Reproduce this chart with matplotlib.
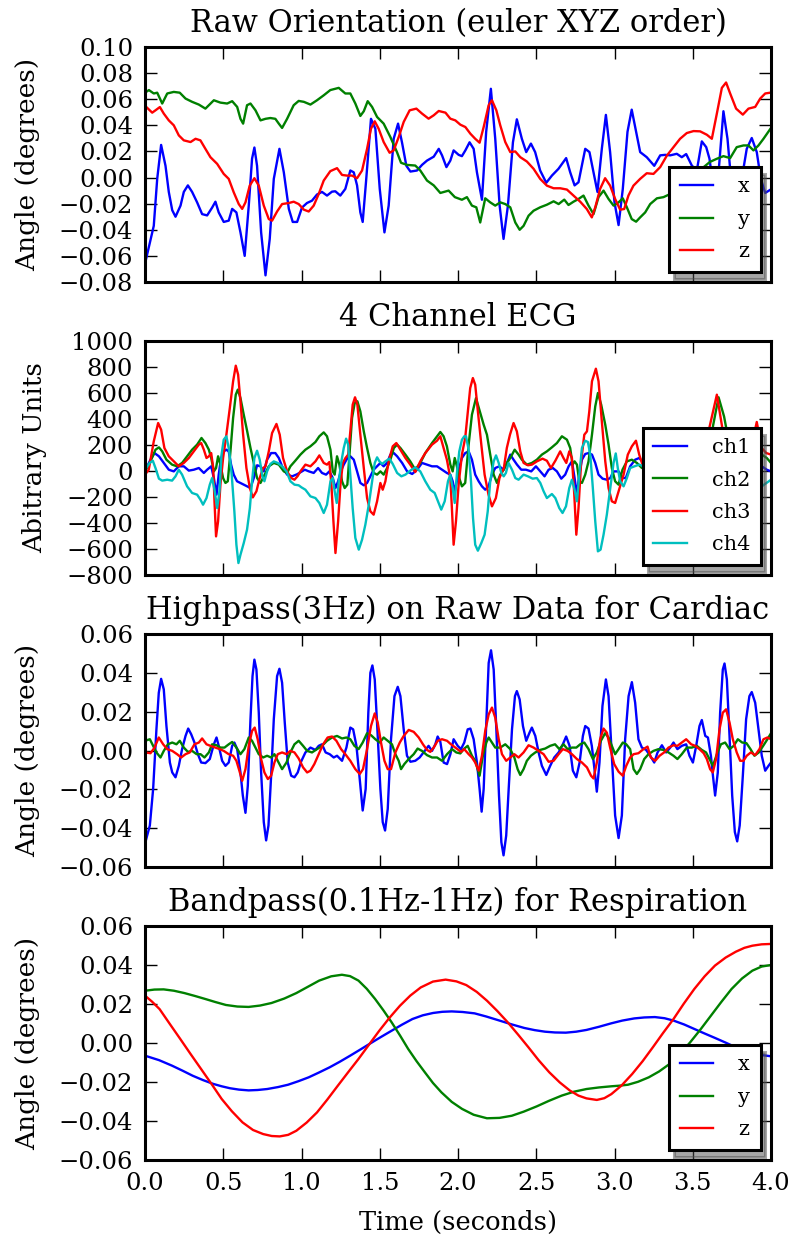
import matplotlib
matplotlib.use("Agg")
import matplotlib.pyplot as plt

plt.rcParams['font.family'] = ['DejaVu Serif']
plt.rcParams['axes.unicode_minus'] = True

# ---------------- data (time in seconds, value) ----------------
raw_x = [(0.0,-0.066),(0.056,-0.037),(0.078,-0.001),(0.103,0.025),(0.131,0.009),(0.152,-0.011),(0.174,-0.025),(0.195,-0.030),(0.227,-0.0215),(0.248,-0.011),(0.274,-0.006),(0.301,-0.011),(0.333,-0.019),(0.365,-0.028),(0.397,-0.029),(0.429,-0.023),(0.45,-0.0185),(0.471,-0.0267),(0.503,-0.034),(0.535,-0.033),(0.557,-0.024),(0.584,-0.0267),(0.61,-0.042),(0.637,-0.060),(0.663,-0.0215),(0.684,0.0144),(0.699,0.023),(0.716,0.009),(0.742,-0.042),(0.77,-0.0749),(0.797,-0.047),(0.823,-0.001),(0.859,0.022),(0.887,0.004),(0.919,-0.024),(0.944,-0.034),(0.972,-0.034),(1.003,-0.023),(1.035,-0.0195),(1.067,-0.0177),(1.099,-0.013),(1.131,-0.011),(1.163,-0.0138),(1.195,-0.0108),(1.216,-0.0105),(1.248,-0.0138),(1.28,-0.0087),(1.312,0.0054),(1.334,0.004),(1.355,-0.006),(1.376,-0.0267),(1.391,-0.034),(1.412,-0.0036),(1.444,0.045),(1.472,0.0374),(1.5,-0.0087),(1.53,-0.042),(1.557,-0.0215),(1.589,0.0297),(1.617,0.0413),(1.642,0.027),(1.67,0.009),(1.696,0.0046),(1.738,0.0054),(1.77,0.0097),(1.802,0.013),(1.845,0.016),(1.877,0.022),(1.898,0.017),(1.926,0.008),(1.951,0.013),(1.972,0.0208),(2.004,0.0174),(2.025,0.0164),(2.047,0.0208),(2.074,0.027),(2.1,0.022),(2.121,0.004),(2.153,-0.017),(2.18,0.035),(2.21,0.068),(2.238,0.0297),(2.266,-0.0215),(2.291,-0.047),(2.319,-0.0215),(2.351,0.027),(2.376,0.0446),(2.408,0.0297),(2.436,0.0195),(2.466,0.026),(2.493,0.0195),(2.525,0.0054),(2.564,-0.004),(2.6,0.0015),(2.642,0.0067),(2.691,0.0149),(2.717,0.004),(2.745,-0.006),(2.77,-0.0036),(2.813,0.022),(2.84,0.0195),(2.866,0.004),(2.891,-0.011),(2.919,0.022),(2.945,0.048),(2.972,0.0195),(3.0,-0.019),(3.026,-0.0364),(3.053,-0.0087),(3.083,0.035),(3.11,0.052),(3.138,0.035),(3.164,0.0195),(3.206,0.0156),(3.254,0.009),(3.292,0.017),(3.324,0.0174),(3.356,0.017),(3.398,0.0182),(3.43,0.0156),(3.458,0.018),(3.494,0.0092),(3.526,0.0054),(3.558,0.0277),(3.586,0.0233),(3.607,0.0144),(3.633,-0.0087),(3.665,0.004),(3.696,0.0508),(3.722,0.0297),(3.75,-0.0087),(3.781,-0.0164),(3.813,-0.001),(3.845,0.022),(3.877,0.0303),(3.909,0.0195),(3.935,-0.001),(3.963,-0.0118),(4.0,-0.009)]
raw_y = [(0.0,0.065),(0.025,0.067),(0.056,0.0644),(0.078,0.065),(0.11,0.0567),(0.142,0.0644),(0.184,0.0656),(0.222,0.065),(0.259,0.0605),(0.301,0.058),(0.344,0.0559),(0.386,0.0528),(0.44,0.0592),(0.482,0.0574),(0.525,0.0567),(0.557,0.0585),(0.589,0.0541),(0.61,0.045),(0.627,0.0413),(0.652,0.0554),(0.674,0.0567),(0.706,0.0515),(0.738,0.0438),(0.77,0.045),(0.801,0.0456),(0.833,0.045),(0.855,0.0413),(0.876,0.038),(0.908,0.045),(0.95,0.0554),(0.982,0.0587),(1.015,0.058),(1.057,0.0559),(1.099,0.0592),(1.142,0.063),(1.184,0.067),(1.238,0.0687),(1.28,0.0644),(1.312,0.0644),(1.344,0.0567),(1.376,0.0472),(1.398,0.0508),(1.423,0.0585),(1.451,0.0541),(1.483,0.0464),(1.525,0.0413),(1.568,0.031),(1.61,0.0195),(1.636,0.0113),(1.674,0.0097),(1.727,0.0092),(1.759,0.0054),(1.802,-0.0023),(1.845,-0.006),(1.887,-0.0118),(1.94,-0.01),(1.98,-0.015),(2.025,-0.017),(2.057,-0.015),(2.089,-0.0215),(2.117,-0.0228),(2.142,-0.0344),(2.174,-0.0159),(2.206,-0.019),(2.238,-0.0215),(2.27,-0.019),(2.302,-0.0203),(2.334,-0.0228),(2.366,-0.0344),(2.394,-0.04),(2.419,-0.037),(2.451,-0.0292),(2.483,-0.0254),(2.525,-0.0228),(2.568,-0.0208),(2.611,-0.0182),(2.643,-0.0203),(2.679,-0.0169),(2.706,-0.021),(2.738,-0.0185),(2.77,-0.0164),(2.802,-0.0138),(2.834,-0.0215),(2.866,-0.028),(2.898,-0.015),(2.93,-0.01),(2.962,-0.0164),(2.994,-0.0215),(3.026,-0.019),(3.053,-0.0159),(3.079,-0.0228),(3.11,-0.0318),(3.138,-0.0338),(3.164,-0.0305),(3.196,-0.0267),(3.228,-0.0203),(3.271,-0.0159),(3.313,-0.015),(3.356,-0.0126),(3.45,-0.005),(3.55,0.006),(3.61,0.012),(3.654,0.0144),(3.696,0.0164),(3.739,0.0149),(3.781,0.0233),(3.824,0.0246),(3.856,0.0246),(3.888,0.0208),(3.92,0.0246),(3.952,0.0297),(4.0,0.038)]
raw_z = [(0.0,0.055),(0.046,0.0497),(0.067,0.0515),(0.095,0.054),(0.12,0.049),(0.152,0.0438),(0.184,0.04),(0.216,0.0323),(0.248,0.0285),(0.291,0.0272),(0.323,0.0297),(0.354,0.0285),(0.386,0.022),(0.418,0.0156),(0.461,0.0105),(0.503,0.0028),(0.535,-0.001),(0.567,-0.0113),(0.599,-0.0203),(0.621,-0.024),(0.642,-0.019),(0.669,-0.0062),(0.699,-0.0005),(0.727,-0.0062),(0.759,-0.0215),(0.791,-0.0318),(0.812,-0.033),(0.844,-0.026),(0.876,-0.0203),(0.919,-0.0195),(0.95,-0.0185),(0.982,-0.0203),(1.015,-0.0246),(1.046,-0.026),(1.078,-0.0215),(1.11,-0.0126),(1.142,-0.0023),(1.184,0.0049),(1.227,0.0072),(1.259,0.002),(1.291,0.0015),(1.323,0.0015),(1.355,-0.0005),(1.387,0.0054),(1.419,0.022),(1.444,0.0374),(1.468,0.0431),(1.493,0.0374),(1.525,0.0272),(1.563,0.019),(1.589,0.0208),(1.621,0.031),(1.653,0.0426),(1.691,0.0515),(1.734,0.0528),(1.77,0.049),(1.812,0.0451),(1.845,0.0477),(1.877,0.051),(1.92,0.0497),(1.951,0.0451),(1.983,0.0438),(2.015,0.0405),(2.047,0.0387),(2.079,0.0336),(2.11,0.0297),(2.138,0.0267),(2.164,0.0387),(2.196,0.0554),(2.217,0.0592),(2.245,0.0515),(2.27,0.04),(2.302,0.0272),(2.334,0.0195),(2.366,0.02),(2.398,0.0156),(2.44,0.0123),(2.483,0.0067),(2.525,-0.001),(2.568,-0.0062),(2.611,-0.0082),(2.653,-0.0082),(2.696,-0.0092),(2.738,-0.0138),(2.781,-0.0185),(2.823,-0.0241),(2.855,-0.0305),(2.877,-0.0228),(2.908,-0.0087),(2.94,-0.0005),(2.972,-0.0062),(3.004,-0.0164),(3.036,-0.0246),(3.062,-0.0241),(3.089,-0.0138),(3.121,-0.0062),(3.164,-0.001),(3.206,0.0033),(3.249,0.0028),(3.292,0.008),(3.335,0.0169),(3.377,0.0233),(3.419,0.0297),(3.462,0.0341),(3.505,0.0356),(3.547,0.0354),(3.59,0.0328),(3.622,0.0297),(3.654,0.049),(3.686,0.0687),(3.713,0.0728),(3.739,0.0644),(3.777,0.0528),(3.82,0.0482),(3.856,0.0528),(3.899,0.0541),(3.931,0.0605),(3.963,0.0644),(4.0,0.0651)]

ecg_ch1 = [(0.0,0),(0.035,87),(0.061,138),(0.089,113),(0.12,62),(0.152,10),(0.184,-3),(0.216,36),(0.248,36),(0.28,3),(0.312,10),(0.344,23),(0.376,-15),(0.397,10),(0.423,36),(0.44,-54),(0.457,-182),(0.471,-28),(0.486,100),(0.503,151),(0.52,164),(0.535,151),(0.55,49),(0.567,-28),(0.588,-79),(0.61,-92),(0.631,-105),(0.652,-118),(0.674,-131),(0.695,-54),(0.716,44),(0.738,36),(0.759,-3),(0.78,87),(0.806,138),(0.833,138),(0.855,100),(0.876,36),(0.908,-28),(0.94,-41),(0.972,-25),(1.0,-5),(1.021,10),(1.047,-3),(1.078,-15),(1.106,23),(1.131,-15),(1.157,-28),(1.178,-3),(1.2,-54),(1.217,-131),(1.234,-79),(1.251,-3),(1.27,49),(1.291,95),(1.312,113),(1.334,87),(1.355,-3),(1.376,-92),(1.398,-110),(1.419,-92),(1.44,-41),(1.461,10),(1.483,36),(1.504,62),(1.525,36),(1.547,62),(1.568,126),(1.59,138),(1.611,113),(1.643,62),(1.675,-3),(1.707,-23),(1.739,10),(1.77,62),(1.802,49),(1.834,36),(1.866,36),(1.898,10),(1.929,-15),(1.951,-28),(1.966,-79),(1.979,-156),(1.993,-79),(2.004,10),(2.025,100),(2.046,138),(2.068,151),(2.089,87),(2.11,-28),(2.132,-79),(2.153,-118),(2.174,-144),(2.195,-118),(2.217,-28),(2.238,23),(2.264,36),(2.292,10),(2.313,62),(2.334,126),(2.355,87),(2.377,49),(2.404,10),(2.434,10),(2.468,-3),(2.498,36),(2.526,-3),(2.553,-41),(2.579,10),(2.606,23),(2.632,-3),(2.66,-59),(2.685,-28),(2.707,36),(2.728,74),(2.745,-54),(2.76,-182),(2.775,-28),(2.792,87),(2.813,131),(2.834,138),(2.856,126),(2.877,62),(2.898,-28),(2.924,-59),(2.951,-67),(2.973,-54),(2.994,-3),(3.026,-3),(3.051,-54),(3.072,-54),(3.1,36),(3.132,87),(3.158,100),(3.186,62),(3.25,0),(3.35,20),(3.45,0),(3.52,-150),(3.56,50),(3.6,140),(3.68,60),(3.75,-80),(3.85,-30),(3.9,20),(3.941,36),(3.973,10),(4.0,-3)]
ecg_ch2 = [(0.0,-3),(0.035,74),(0.067,164),(0.089,182),(0.11,151),(0.137,87),(0.173,49),(0.205,36),(0.237,62),(0.269,113),(0.301,164),(0.333,203),(0.361,254),(0.386,215),(0.408,164),(0.423,100),(0.44,-3),(0.454,23),(0.467,113),(0.482,49),(0.499,-54),(0.514,-92),(0.529,-79),(0.546,151),(0.563,408),(0.58,587),(0.593,626),(0.61,561),(0.631,433),(0.653,305),(0.674,177),(0.695,62),(0.716,-54),(0.738,-92),(0.759,-41),(0.791,36),(0.823,62),(0.855,49),(0.887,-3),(0.908,-15),(0.929,36),(0.961,80),(0.993,126),(1.025,164),(1.057,190),(1.089,223),(1.114,267),(1.142,297),(1.163,267),(1.185,164),(1.2,-3),(1.212,-28),(1.227,113),(1.242,49),(1.259,-79),(1.276,-131),(1.293,-105),(1.308,151),(1.323,408),(1.34,523),(1.357,536),(1.376,459),(1.398,305),(1.419,177),(1.44,62),(1.461,-15),(1.483,-28),(1.504,-3),(1.525,-28),(1.547,23),(1.568,87),(1.59,177),(1.611,203),(1.632,177),(1.664,126),(1.695,74),(1.727,10),(1.759,62),(1.791,138),(1.834,215),(1.866,267),(1.887,300),(1.908,267),(1.929,190),(1.951,49),(1.966,-3),(1.979,100),(1.993,36),(2.008,-54),(2.025,-118),(2.046,-92),(2.068,203),(2.089,433),(2.115,561),(2.136,472),(2.164,356),(2.185,279),(2.206,126),(2.228,-28),(2.249,-92),(2.27,-28),(2.292,10),(2.313,62),(2.334,100),(2.362,164),(2.387,126),(2.408,87),(2.44,49),(2.472,62),(2.504,87),(2.536,126),(2.568,151),(2.6,182),(2.632,215),(2.664,267),(2.696,241),(2.717,177),(2.732,49),(2.745,74),(2.76,49),(2.775,-79),(2.792,-92),(2.813,-28),(2.834,74),(2.856,279),(2.877,497),(2.894,600),(2.915,510),(2.941,356),(2.962,203),(2.983,23),(3.004,-79),(3.026,-105),(3.051,10),(3.079,74),(3.111,87),(3.143,62),(3.175,23),(3.25,50),(3.35,100),(3.45,200),(3.5,150),(3.55,-50),(3.6,100),(3.63,350),(3.665,567),(3.7,420),(3.75,100),(3.8,-30),(3.85,-50),(3.9,50),(3.941,126),(3.973,100),(4.0,62)]
ecg_ch3 = [(0.0,-28),(0.024,10),(0.056,228),(0.084,369),(0.103,318),(0.124,177),(0.152,113),(0.184,74),(0.216,36),(0.248,62),(0.28,100),(0.312,151),(0.344,203),(0.359,215),(0.376,164),(0.393,100),(0.408,113),(0.423,138),(0.436,23),(0.444,-233),(0.454,-503),(0.467,-387),(0.482,-105),(0.499,100),(0.52,279),(0.542,485),(0.563,690),(0.58,810),(0.595,741),(0.61,536),(0.627,279),(0.648,23),(0.67,-131),(0.689,-203),(0.712,-156),(0.733,-54),(0.755,23),(0.77,36),(0.791,151),(0.812,292),(0.84,362),(0.861,279),(0.882,100),(0.908,-3),(0.934,-54),(0.955,-67),(0.975,-40),(0.993,-3),(1.025,49),(1.057,36),(1.089,74),(1.114,120),(1.142,62),(1.163,49),(1.178,69),(1.191,-105),(1.204,-387),(1.217,-631),(1.234,-387),(1.249,-105),(1.264,62),(1.281,100),(1.298,126),(1.312,305),(1.327,510),(1.342,567),(1.357,510),(1.376,279),(1.398,23),(1.419,-208),(1.44,-310),(1.461,-336),(1.483,-233),(1.504,-92),(1.519,-144),(1.536,-79),(1.557,74),(1.583,190),(1.606,215),(1.632,164),(1.664,100),(1.695,49),(1.727,-8),(1.759,74),(1.791,138),(1.834,203),(1.866,233),(1.887,267),(1.908,177),(1.929,87),(1.951,-54),(1.961,-285),(1.972,-567),(1.987,-387),(2.004,-105),(2.025,126),(2.046,254),(2.063,459),(2.078,638),(2.095,715),(2.11,664),(2.127,459),(2.149,203),(2.17,-28),(2.195,-182),(2.217,-272),(2.242,-208),(2.265,-54),(2.293,23),(2.312,177),(2.332,279),(2.355,369),(2.376,305),(2.398,151),(2.419,62),(2.447,44),(2.472,49),(2.504,74),(2.54,95),(2.568,79),(2.594,23),(2.622,79),(2.653,151),(2.674,100),(2.692,62),(2.711,151),(2.728,100),(2.743,-182),(2.756,-490),(2.77,-285),(2.787,74),(2.807,279),(2.824,305),(2.839,459),(2.856,690),(2.881,787),(2.898,690),(2.919,382),(2.941,74),(2.962,-131),(2.983,-233),(3.004,-246),(3.026,-156),(3.058,-28),(3.085,126),(3.111,190),(3.137,233),(3.158,126),(3.186,23),(3.25,0),(3.3,50),(3.4,120),(3.48,150),(3.52,-400),(3.56,50),(3.6,300),(3.654,587),(3.7,250),(3.75,-250),(3.8,-200),(3.85,50),(3.909,377),(3.94,177),(3.97,138),(4.0,126)]
ecg_ch4 = [(0.0,10),(0.03,62),(0.05,79),(0.067,23),(0.089,-59),(0.11,-74),(0.142,-67),(0.173,-74),(0.195,-41),(0.216,10),(0.237,-28),(0.269,-118),(0.301,-169),(0.333,-182),(0.354,-220),(0.371,-259),(0.393,-208),(0.414,-105),(0.429,-54),(0.444,-144),(0.461,-285),(0.476,-156),(0.489,126),(0.503,241),(0.52,267),(0.537,164),(0.554,-28),(0.571,-310),(0.584,-567),(0.597,-708),(0.61,-644),(0.631,-554),(0.652,-451),(0.67,-285),(0.684,-79),(0.699,100),(0.716,156),(0.733,87),(0.75,-41),(0.763,-79),(0.78,-3),(0.801,54),(0.823,74),(0.848,62),(0.876,36),(0.904,-3),(0.929,-79),(0.955,-105),(0.982,-110),(1.0,-126),(1.025,-144),(1.057,-195),(1.089,-208),(1.114,-246),(1.142,-323),(1.163,-259),(1.185,-79),(1.2,-54),(1.212,-156),(1.225,-246),(1.238,-79),(1.255,74),(1.27,177),(1.285,249),(1.298,203),(1.312,-28),(1.327,-285),(1.344,-515),(1.366,-605),(1.387,-528),(1.408,-413),(1.43,-259),(1.451,-79),(1.468,62),(1.483,105),(1.498,74),(1.515,54),(1.536,74),(1.562,95),(1.583,54),(1.611,-15),(1.638,-41),(1.664,-28),(1.695,3),(1.727,28),(1.759,-3),(1.791,-79),(1.823,-144),(1.851,-169),(1.872,-233),(1.893,-297),(1.915,-233),(1.936,-79),(1.951,-28),(1.966,-131),(1.979,-246),(1.993,-20),(2.008,150),(2.025,240),(2.04,267),(2.051,267),(2.068,164),(2.083,-79),(2.096,-362),(2.11,-567),(2.127,-613),(2.149,-554),(2.17,-490),(2.19,-310),(2.206,-79),(2.228,74),(2.243,120),(2.26,62),(2.277,-15),(2.292,-41),(2.306,-15),(2.323,62),(2.345,10),(2.366,-54),(2.387,-67),(2.419,-28),(2.447,-41),(2.477,-59),(2.504,-54),(2.526,-92),(2.547,-156),(2.568,-208),(2.6,-177),(2.622,-208),(2.647,-285),(2.668,-323),(2.69,-272),(2.711,-131),(2.728,-67),(2.745,-144),(2.76,-233),(2.775,-28),(2.792,177),(2.813,233),(2.83,223),(2.845,126),(2.86,-105),(2.877,-387),(2.894,-618),(2.911,-605),(2.93,-490),(2.951,-336),(2.973,-131),(2.994,62),(3.008,135),(3.021,23),(3.036,-79),(3.058,-118),(3.079,-54),(3.1,23),(3.128,36),(3.158,49),(3.186,36),(3.25,-30),(3.35,-80),(3.45,-250),(3.5,-150),(3.55,200),(3.6,-300),(3.66,-550),(3.72,-300),(3.8,0),(3.88,-80),(3.941,-118),(4.0,-67)]

hp_x = [(0.0,-0.048),(0.031,-0.0386),(0.052,-0.0198),(0.073,0.0109),(0.088,0.0297),(0.103,0.0369),(0.12,0.0315),(0.137,0.0126),(0.159,-0.0062),(0.174,-0.0113),(0.195,-0.0138),(0.216,-0.0079),(0.237,0.0007),(0.259,0.0075),(0.276,0.0113),(0.295,0.0084),(0.316,0.0041),(0.338,-0.0019),(0.359,-0.0062),(0.386,-0.0065),(0.414,-0.0044),(0.44,0.0032),(0.457,0.0067),(0.471,0.0024),(0.493,-0.0053),(0.514,-0.0079),(0.535,-0.0062),(0.557,0.0024),(0.571,0.0041),(0.589,0.0007),(0.61,-0.0113),(0.625,-0.0232),(0.642,-0.0321),(0.657,-0.0181),(0.674,0.0161),(0.687,0.0383),(0.699,0.0468),(0.712,0.0417),(0.727,0.0195),(0.742,-0.0113),(0.759,-0.0369),(0.774,-0.0463),(0.789,-0.0386),(0.806,-0.013),(0.823,0.0161),(0.844,0.0383),(0.859,0.0421),(0.876,0.0349),(0.893,0.0144),(0.912,-0.0062),(0.934,-0.013),(0.955,-0.0138),(0.976,-0.0113),(0.997,-0.0058),(1.025,-0.001),(1.057,0.0015),(1.089,0.0003),(1.11,0.0024),(1.131,0.0032),(1.154,-0.001),(1.18,-0.0019),(1.206,-0.0036),(1.227,-0.0027),(1.259,-0.0053),(1.287,0.0015),(1.312,0.0118),(1.33,0.0109),(1.351,0.0024),(1.372,-0.0147),(1.391,-0.0309),(1.41,-0.0198),(1.427,0.0195),(1.44,0.04),(1.453,0.0438),(1.468,0.0366),(1.487,0.0075),(1.504,-0.0198),(1.519,-0.0369),(1.534,-0.0412),(1.551,-0.0301),(1.572,0.0058),(1.594,0.028),(1.615,0.0328),(1.632,0.028),(1.653,0.0109),(1.674,-0.0027),(1.696,-0.0058),(1.727,-0.0053),(1.755,-0.0036),(1.78,-0.001),(1.812,0.0024),(1.834,-0.0002),(1.855,0.0032),(1.87,0.0072),(1.887,0.0045),(1.908,-0.0062),(1.93,-0.007),(1.951,-0.002),(1.972,0.0058),(1.998,0.0024),(2.019,0.0007),(2.04,0.0041),(2.062,0.0109),(2.079,0.0113),(2.1,0.0058),(2.121,-0.0062),(2.138,-0.0198),(2.151,-0.0315),(2.164,-0.0198),(2.181,0.0144),(2.196,0.0451),(2.211,0.0516),(2.228,0.0417),(2.245,0.0109),(2.262,-0.0232),(2.277,-0.0472),(2.291,-0.054),(2.308,-0.0438),(2.325,-0.0181),(2.345,0.0109),(2.364,0.028),(2.376,0.0306),(2.394,0.0263),(2.415,0.0126),(2.436,0.005),(2.457,0.0092),(2.472,0.0118),(2.494,0.0075),(2.515,-0.001),(2.536,-0.0079),(2.564,-0.0126),(2.589,-0.0079),(2.615,-0.0036),(2.643,-0.001),(2.67,0.0032),(2.691,0.0072),(2.713,0.0024),(2.734,-0.0104),(2.756,-0.0138),(2.777,-0.0062),(2.798,0.0075),(2.813,0.0126),(2.834,0.0113),(2.855,0.0024),(2.872,-0.0096),(2.887,-0.0212),(2.904,-0.0062),(2.923,0.0229),(2.945,0.0366),(2.962,0.028),(2.983,-0.0027),(3.004,-0.0335),(3.026,-0.0451),(3.047,-0.0335),(3.068,0.0058),(3.09,0.028),(3.111,0.0352),(3.132,0.0246),(3.153,0.0058),(3.175,0.0015),(3.202,0.0003),(3.228,-0.0027),(3.254,-0.0062),(3.275,-0.001),(3.303,0.0027),(3.33,-0.001),(3.356,0.0015),(3.377,0.0041),(3.402,0.0007),(3.43,0.0024),(3.458,0.0032),(3.479,-0.0027),(3.501,-0.0062),(3.522,0.0024),(3.543,0.0126),(3.558,0.0157),(3.58,0.0075),(3.597,0.0067),(3.616,-0.0027),(3.629,-0.013),(3.643,-0.0232),(3.66,-0.0113),(3.675,0.0195),(3.692,0.0417),(3.703,0.0448),(3.718,0.0366),(3.735,0.0075),(3.752,-0.0232),(3.769,-0.042),(3.784,-0.0468),(3.8,-0.0386),(3.82,-0.013),(3.841,0.0161),(3.862,0.028),(3.877,0.0301),(3.899,0.0246),(3.92,0.0109),(3.941,-0.0027),(3.963,-0.0104),(3.984,-0.0079),(4.0,-0.0062)]
hp_y = [(0.0,0.005),(0.031,0.0058),(0.052,0.0024),(0.073,-0.001),(0.099,-0.0036),(0.12,-0.0002),(0.146,0.0032),(0.174,0.0041),(0.201,0.0032),(0.222,0.005),(0.248,0.0015),(0.274,-0.0007),(0.301,-0.0002),(0.33,-0.0019),(0.355,-0.0019),(0.38,-0.0036),(0.408,-0.001),(0.429,0.0032),(0.457,0.0027),(0.482,0.0015),(0.508,0.0015),(0.535,0.0032),(0.557,0.0044),(0.584,0.0015),(0.61,-0.0019),(0.635,0.0007),(0.663,0.0067),(0.684,0.005),(0.706,0.0015),(0.727,-0.0019),(0.755,-0.0036),(0.78,-0.0027),(0.806,-0.0036),(0.827,-0.0019),(0.848,-0.0053),(0.876,-0.0096),(0.904,-0.0062),(0.929,-0.001),(0.955,0.0032),(0.982,0.005),(1.01,0.0024),(1.036,-0.0002),(1.067,-0.001),(1.099,0.0007),(1.131,0.0024),(1.163,0.005),(1.195,0.0067),(1.227,0.0075),(1.259,0.0062),(1.287,0.0067),(1.312,0.0058),(1.338,0.0024),(1.365,0.0007),(1.391,0.0041),(1.419,0.0089),(1.444,0.0079),(1.472,0.0058),(1.5,0.0041),(1.525,0.0067),(1.551,0.005),(1.578,0.0032),(1.6,-0.0019),(1.621,-0.0053),(1.636,-0.0096),(1.657,-0.007),(1.685,-0.0044),(1.717,-0.0019),(1.742,0.001),(1.77,-0.0002),(1.802,-0.0024),(1.834,-0.0036),(1.866,-0.0036),(1.898,-0.0053),(1.93,-0.0019),(1.962,0.0007),(1.989,-0.001),(2.015,-0.0015),(2.036,0.0007),(2.062,0.0024),(2.089,-0.0027),(2.11,-0.0053),(2.126,-0.0096),(2.138,-0.013),(2.159,-0.0027),(2.181,0.0041),(2.196,0.0067),(2.217,0.0041),(2.238,0.0015),(2.27,0.0015),(2.302,0.0032),(2.334,0.0007),(2.36,-0.0036),(2.381,-0.0096),(2.398,-0.0126),(2.419,-0.0096),(2.44,-0.0053),(2.466,-0.0027),(2.494,-0.001),(2.525,0.0003),(2.557,0.001),(2.589,0.0024),(2.62,0.0032),(2.648,0.0007),(2.674,0.0032),(2.7,0.0007),(2.728,0.0015),(2.756,0.0015),(2.781,0.0032),(2.807,0.0041),(2.834,0.0007),(2.862,-0.0044),(2.887,-0.001),(2.913,0.005),(2.94,0.0089),(2.962,0.0067),(2.983,0.0024),(3.004,-0.0019),(3.026,0.0007),(3.053,0.0041),(3.075,0.0032),(3.1,0.0007),(3.122,-0.0096),(3.143,-0.0121),(3.164,-0.0096),(3.19,-0.0044),(3.217,-0.0019),(3.249,-0.0002),(3.281,0.0007),(3.313,0.0003),(3.345,-0.001),(3.377,-0.0027),(3.402,-0.0044),(3.43,-0.0019),(3.462,0.0015),(3.494,0.0015),(3.526,0.0024),(3.558,0.0003),(3.585,-0.001),(3.607,-0.0044),(3.629,-0.0079),(3.654,-0.0019),(3.68,0.0032),(3.707,0.0041),(3.735,0.0007),(3.762,0.0024),(3.788,0.0058),(3.816,0.0041),(3.843,0.0038),(3.869,0.0007),(3.894,-0.0027),(3.922,-0.001),(3.95,0.0024),(3.977,0.0058),(4.0,0.0089)]
hp_z = [(0.0,-0.001),(0.035,-0.0014),(0.061,0.0015),(0.088,0.0067),(0.116,0.0032),(0.142,0.0007),(0.174,-0.0002),(0.205,-0.0019),(0.231,-0.0036),(0.259,-0.0019),(0.286,-0.001),(0.316,0.0032),(0.344,0.0041),(0.365,0.0062),(0.393,0.0032),(0.418,0.0024),(0.45,0.0015),(0.478,0.0007),(0.503,-0.0002),(0.535,-0.0019),(0.563,-0.0027),(0.584,-0.0053),(0.603,-0.0104),(0.621,-0.0156),(0.642,-0.0096),(0.663,0.0024),(0.684,0.0101),(0.701,0.0118),(0.72,0.0058),(0.742,-0.0044),(0.763,-0.0113),(0.785,-0.0147),(0.806,-0.013),(0.827,-0.0062),(0.848,-0.0019),(0.876,-0.001),(0.904,-0.0019),(0.929,-0.0002),(0.955,-0.001),(0.982,-0.0041),(1.01,-0.0087),(1.036,-0.0113),(1.057,-0.0104),(1.082,-0.007),(1.11,-0.0019),(1.138,0.0032),(1.167,0.0067),(1.195,0.0072),(1.223,0.005),(1.253,0.0007),(1.28,-0.0019),(1.312,-0.0053),(1.344,-0.0096),(1.372,-0.0121),(1.393,-0.0096),(1.419,0.0007),(1.444,0.0126),(1.468,0.0191),(1.487,0.0144),(1.508,0.0041),(1.53,-0.0053),(1.551,-0.0096),(1.572,-0.0096),(1.6,-0.001),(1.628,0.0041),(1.653,0.0075),(1.685,0.0106),(1.717,0.0096),(1.749,0.0067),(1.776,0.0032),(1.802,0.0003),(1.823,-0.0007),(1.845,0.0015),(1.87,0.005),(1.898,0.0058),(1.93,0.005),(1.955,0.0032),(1.983,0.0015),(2.019,-0.0007),(2.04,0.0007),(2.068,-0.0019),(2.089,-0.0036),(2.11,-0.0062),(2.132,-0.0104),(2.153,-0.0027),(2.174,0.0101),(2.196,0.0186),(2.217,0.0221),(2.238,0.0169),(2.26,0.0058),(2.281,-0.0019),(2.308,-0.0053),(2.334,-0.0036),(2.36,-0.0019),(2.387,-0.0036),(2.419,-0.001),(2.451,0.0027),(2.483,0.0015),(2.515,-0.0002),(2.547,-0.0019),(2.579,-0.0058),(2.611,-0.0053),(2.643,-0.0019),(2.67,0.0007),(2.7,-0.0002),(2.728,-0.0019),(2.76,-0.0044),(2.792,-0.0062),(2.824,-0.0087),(2.85,-0.013),(2.866,-0.0144),(2.887,-0.0062),(2.908,0.0058),(2.93,0.0113),(2.951,0.0092),(2.972,0.0015),(2.998,-0.007),(3.026,-0.0109),(3.053,-0.013),(3.075,-0.0079),(3.1,-0.0036),(3.122,-0.0019),(3.153,-0.0014),(3.185,0.0007),(3.211,0.002),(3.232,-0.0036),(3.26,-0.0053),(3.288,-0.0027),(3.317,-0.001),(3.345,0.0015),(3.377,0.0027),(3.402,0.0024),(3.43,0.0041),(3.458,0.0058),(3.49,0.0032),(3.516,0.0024),(3.543,0.0007),(3.57,-0.0014),(3.59,-0.0044),(3.611,-0.0096),(3.628,-0.0113),(3.649,-0.0044),(3.671,0.0109),(3.692,0.0195),(3.713,0.0212),(3.735,0.0144),(3.756,0.0058),(3.781,-0.001),(3.803,-0.0053),(3.824,-0.0053),(3.845,-0.0027),(3.871,-0.001),(3.899,-0.0024),(3.926,0.0007),(3.952,0.0058),(3.977,0.0067),(4.0,0.0058)]

bp_x = [(0.0,-0.0065),(0.09,-0.0088),(0.172,-0.0116),(0.24,-0.0142),(0.305,-0.0168),(0.37,-0.019),(0.437,-0.021),(0.49,-0.0222),(0.543,-0.0232),(0.6,-0.0239),(0.662,-0.0243),(0.72,-0.0241),(0.781,-0.0236),(0.85,-0.0226),(0.914,-0.0214),(0.98,-0.0196),(1.046,-0.0176),(1.11,-0.0152),(1.179,-0.0125),(1.245,-0.0096),(1.311,-0.0065),(1.377,-0.0033),(1.444,0.0),(1.51,0.0032),(1.576,0.0063),(1.642,0.0094),(1.709,0.0123),(1.775,0.0142),(1.841,0.0154),(1.9,0.016),(1.96,0.0162),(2.03,0.0159),(2.106,0.0152),(2.18,0.0136),(2.265,0.0115),(2.345,0.0095),(2.424,0.0077),(2.49,0.0066),(2.556,0.0058),(2.62,0.0054),(2.689,0.0053),(2.755,0.0058),(2.821,0.0067),(2.9,0.0083),(2.98,0.0101),(3.05,0.0115),(3.126,0.0126),(3.19,0.0131),(3.258,0.0133),(3.32,0.0127),(3.377,0.0115),(3.445,0.0095),(3.51,0.0072),(3.575,0.0049),(3.642,0.0026),(3.71,0.0002),(3.775,-0.0022),(3.83,-0.0038),(3.881,-0.0051),(3.94,-0.0062),(4.0,-0.0068)]
bp_y = [(0.0,0.0268),(0.06,0.0274),(0.119,0.0275),(0.185,0.0268),(0.252,0.0256),(0.32,0.0241),(0.384,0.0226),(0.45,0.021),(0.517,0.0195),(0.59,0.0187),(0.662,0.0185),(0.735,0.0192),(0.808,0.0205),(0.89,0.0228),(0.967,0.0256),(1.04,0.0288),(1.113,0.032),(1.19,0.0342),(1.258,0.035),(1.31,0.0343),(1.364,0.032),(1.417,0.0278),(1.47,0.0226),(1.523,0.0168),(1.576,0.0106),(1.63,0.0038),(1.682,-0.0031),(1.735,-0.0093),(1.788,-0.015),(1.84,-0.0205),(1.894,-0.0253),(1.96,-0.0302),(2.026,-0.0338),(2.1,-0.0368),(2.185,-0.0386),(2.265,-0.0384),(2.344,-0.0373),(2.42,-0.0352),(2.503,-0.0325),(2.58,-0.0297),(2.662,-0.027),(2.74,-0.025),(2.821,-0.0236),(2.9,-0.0228),(2.98,-0.0222),(3.03,-0.0219),(3.086,-0.0214),(3.15,-0.0199),(3.219,-0.0176),(3.285,-0.0146),(3.351,-0.0108),(3.417,-0.0057),(3.483,0.0003),(3.55,0.007),(3.616,0.014),(3.682,0.021),(3.748,0.0277),(3.815,0.0331),(3.881,0.0371),(3.94,0.0392),(4.0,0.040)]
bp_z = [(0.0,0.0243),(0.045,0.0212),(0.093,0.0174),(0.16,0.0096),(0.225,0.0021),(0.29,-0.0055),(0.358,-0.0133),(0.425,-0.021),(0.49,-0.0287),(0.555,-0.035),(0.623,-0.0407),(0.69,-0.0446),(0.755,-0.0467),(0.81,-0.0477),(0.861,-0.0479),(0.915,-0.0471),(0.967,-0.045),(1.033,-0.0408),(1.099,-0.0356),(1.165,-0.029),(1.232,-0.0219),(1.298,-0.015),(1.364,-0.0082),(1.43,-0.001),(1.497,0.0063),(1.563,0.013),(1.629,0.0191),(1.695,0.0243),(1.762,0.0285),(1.84,0.0315),(1.921,0.0325),(1.99,0.0316),(2.053,0.0297),(2.12,0.0262),(2.185,0.0217),(2.25,0.0165),(2.318,0.0106),(2.385,0.0042),(2.45,-0.0022),(2.515,-0.0088),(2.583,-0.015),(2.65,-0.0202),(2.715,-0.0244),(2.77,-0.027),(2.821,-0.0284),(2.887,-0.0292),(2.935,-0.0283),(2.98,-0.0262),(3.045,-0.0218),(3.113,-0.0159),(3.18,-0.0093),(3.245,-0.0022),(3.31,0.0051),(3.377,0.0123),(3.443,0.0202),(3.51,0.0277),(3.576,0.0342),(3.642,0.0397),(3.71,0.0438),(3.775,0.0468),(3.83,0.0488),(3.881,0.0499),(3.94,0.0506),(4.0,0.0508)]

titles = ["Raw Orientation (euler XYZ order)", "4 Channel ECG",
          "Highpass(3Hz) on Raw Data for Cardiac", "Bandpass(0.1Hz-1Hz) for Respiration"]
ylabels = ["Angle (degrees)", "Abitrary Units", "Angle (degrees)", "Angle (degrees)"]
xyz_labels = ["x", "y", "z"]
ecg_labels = ["ch1", "ch2", "ch3", "ch4"]
yticks_list = [[-0.08, -0.06, -0.04, -0.02, 0.00, 0.02, 0.04, 0.06, 0.08, 0.10],
               [-800, -600, -400, -200, 0, 200, 400, 600, 800, 1000],
               [-0.06, -0.04, -0.02, 0.00, 0.02, 0.04, 0.06],
               [-0.06, -0.04, -0.02, 0.00, 0.02, 0.04, 0.06]]
xticks = [0.0, 0.5, 1.0, 1.5, 2.0, 2.5, 3.0, 3.5, 4.0]

# ---------------- figure ----------------
W, H = 794, 1240
fig = plt.figure(figsize=(W / 100, H / 100), dpi=100)
left, right = 145 / W, 771 / W
bounds = [(47, 282), (341, 575), (634, 867), (926, 1160)]
axes = []
for (top, bot) in bounds:
    ax = fig.add_axes([left, 1 - bot / H, right - left, (bot - top) / H],
                      sharex=axes[0] if axes else None)
    axes.append(ax)

cols3 = ['#0000ff', '#008000', '#ff0000']
cols4 = ['#0000ff', '#008000', '#ff0000', '#00bfbf']
LW = 1.7

def draw(ax, series, cols, labels=None):
    for i, s in enumerate(series):
        t = [p[0] for p in s]
        v = [p[1] for p in s]
        ax.plot(t, v, color=cols[i], lw=LW, label=(labels[i] if labels else None))

draw(axes[0], [raw_x, raw_y, raw_z], cols3, xyz_labels)
draw(axes[1], [ecg_ch1, ecg_ch2, ecg_ch3, ecg_ch4], cols4, ecg_labels)
draw(axes[2], [hp_x, hp_y, hp_z], cols3)
draw(axes[3], [bp_x, bp_y, bp_z], cols3, xyz_labels)

for i, ax in enumerate(axes):
    ax.set_xlim(0, 4)
    yt = yticks_list[i]
    ax.set_ylim(yt[0], yt[-1])
    ax.set_yticks(yt)
    ax.set_xticks(xticks)
    ax.set_title(titles[i], fontsize=22, pad=10.5)
    ax.set_ylabel(ylabels[i], fontsize=19, labelpad=13.5)
    ax.tick_params(direction='in', top=True, right=True, length=8.5, width=1,
                   labelsize=17.5, pad=8.5)
    for sp in ax.spines.values():
        sp.set_linewidth(2.2)
    if i < 3:
        ax.tick_params(labelbottom=False)
    if i in (0, 1, 3):
        leg = ax.legend(loc='lower right', fontsize=15, fancybox=False,
                        shadow={'ox': 3.5, 'oy': -5}, framealpha=1,
                        handlelength=1.6, handletextpad=1.2,
                        labelspacing=0.64, borderpad=0.5, borderaxespad=0.5)
        leg.get_frame().set_linewidth(2.2)
        leg.get_frame().set_edgecolor('black')

axes[3].set_xlabel("Time (seconds)", fontsize=18.5, labelpad=11)

fig.savefig("out.png", dpi=100)
